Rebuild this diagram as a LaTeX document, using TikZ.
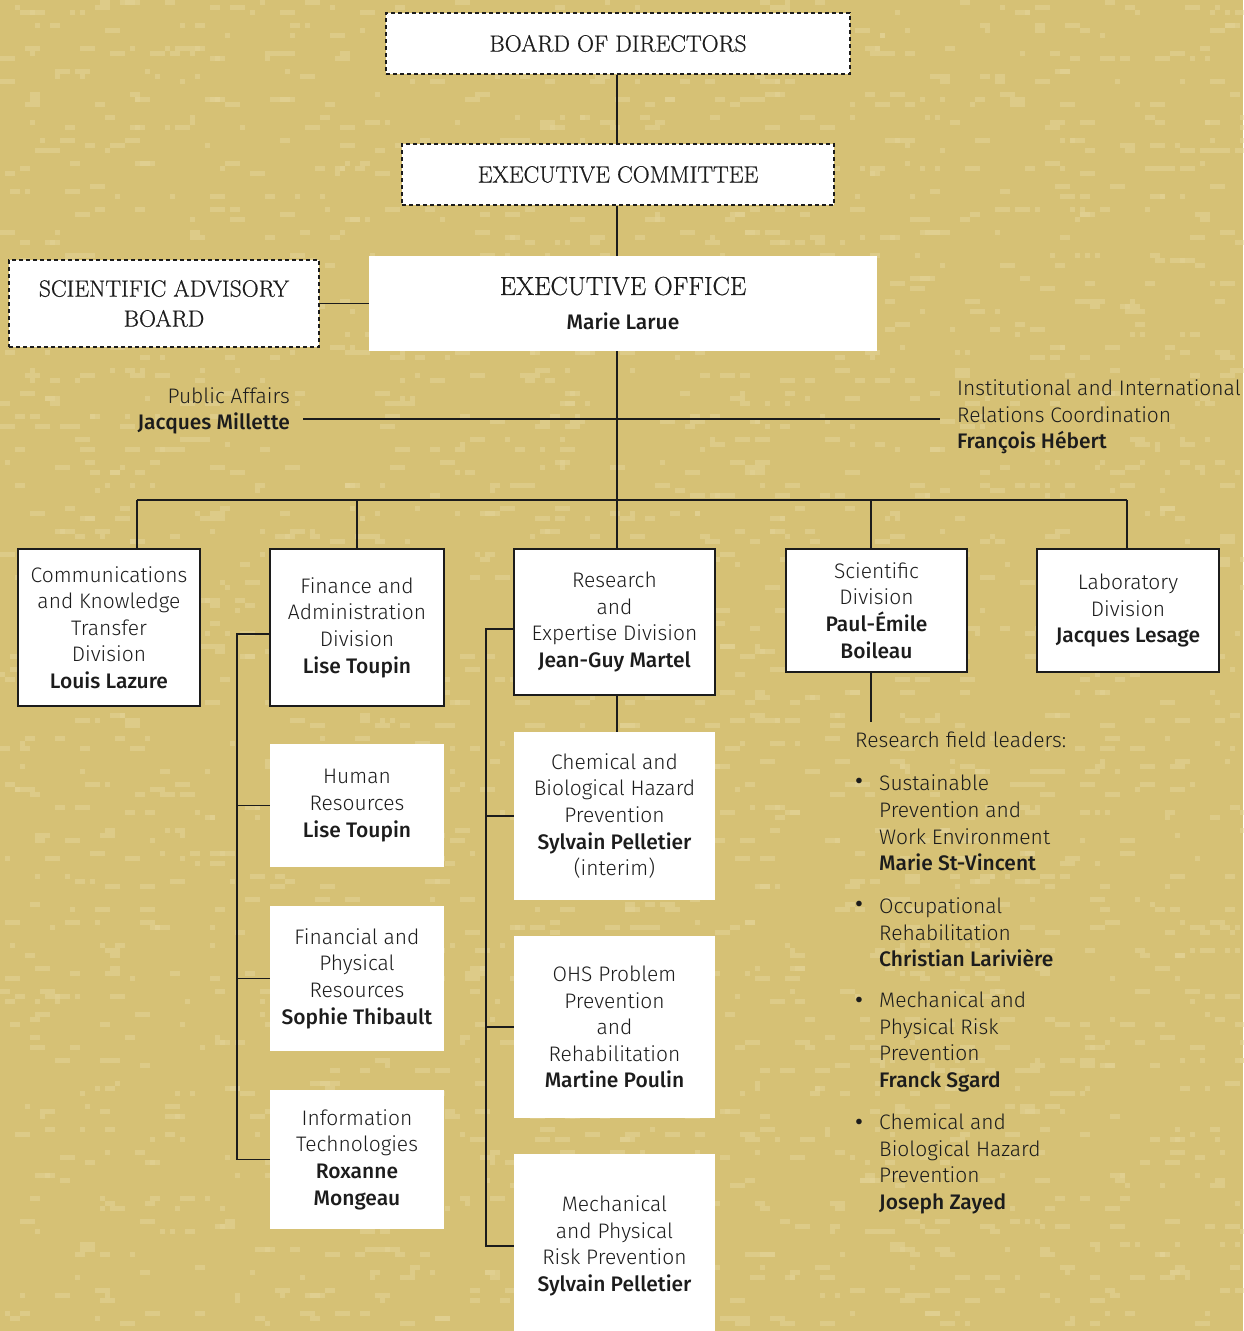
\documentclass[tikz,border=0pt]{standalone}
\usepackage{fontspec}
\setmainfont{Fira Sans Light}[BoldFont={Fira Sans Medium}]
\newfontfamily\headfont{Latin Modern Roman}[FakeBold=0.6]
\definecolor{bg}{RGB}{214,193,117}
\definecolor{speck}{RGB}{228,212,152}
\definecolor{ink}{RGB}{28,28,28}
\begin{document}
\begin{tikzpicture}[x=1pt,y=-1pt,
  conn/.style={draw=ink, line width=1.3pt},
  dashbox/.style={draw=ink, dash pattern=on 4pt off 3pt, fill=white, line width=1.1pt, inner sep=0pt, align=center, text=ink, font=\headfont\fontsize{23.5}{30}\selectfont},
  boxed/.style={draw=ink, fill=white, line width=1.3pt, inner sep=0pt, align=center, text=ink, font=\fontsize{21}{26.6}\selectfont},
  plainbox/.style={fill=white, inner sep=0pt, align=center, text=ink, font=\fontsize{21}{26.6}\selectfont},
  txt/.style={inner sep=0pt, text=ink, font=\fontsize{21}{26.6}\selectfont},
  bul/.style={inner sep=0pt, text=ink, font=\bfseries\fontsize{22}{26.6}\selectfont}]
\useasboundingbox (0,0) rectangle (1243,1331);
\fill[bg] (0,0) rectangle (1243,1331);
% background texture
\pgfmathsetseed{4711}
\foreach \r in {0,...,57}{
  \foreach \k in {1,...,45}{
    \pgfmathsetmacro\rx{5*random(0,248)}
    \pgfmathsetmacro\rw{5*random(1,3)}
    \pgfmathsetmacro\ry{23*\r+5*random(0,2)}
    \fill[speck, opacity=0.55] (\rx,\ry) rectangle ++(\rw,5);
  }
}

% top
\node[dashbox, minimum width=464pt, minimum height=61pt] (bod) at (618,43.5) {BOARD OF DIRECTORS};
\node[dashbox, minimum width=432pt, minimum height=61pt] (ec) at (618,174.5) {EXECUTIVE COMMITTEE};
\node[dashbox, minimum width=310pt, minimum height=87pt] (sab) at (164,303.5) {SCIENTIFIC ADVISORY\\BOARD};
\node[plainbox, minimum width=508pt, minimum height=95pt, font=\fontsize{21}{35}\selectfont] (eo) at (623,303.5) {{\headfont\fontsize{26}{35}\selectfont EXECUTIVE OFFICE}\\\textbf{Marie Larue}};

\draw[conn] (bod.south -| 617,0) -- (ec.north -| 617,0);
\draw[conn] (ec.south -| 617,0) -- (eo.north -| 617,0);
\draw[conn] (sab.east) -- (eo.west);

% staff
\node[txt, anchor=east, align=right] (pa) at (290,411) {Public Affairs\\\textbf{Jacques Millette}};
\node[txt, anchor=west, align=left] (iirc) at (957,417) {Institutional and International\\Relations Coordination\\\textbf{François Hébert}};
\coordinate (paL) at (303,419);
\coordinate (ioR) at (940,419);
\draw[conn] (paL) -- (ioR);

% bus
\coordinate (busC) at (617,500);
\coordinate (busL) at (137,500);
\coordinate (busR) at (1127,500);
\coordinate (d4) at (871,500);
\draw[conn] (eo.south -| busC) -- (busC);
\draw[conn] (busL) -- (busR);

% divisions
\node[boxed, minimum width=182pt, minimum height=157pt] (b1) at (109,627.5) {Communications\\and Knowledge\\Transfer\\Division\\\textbf{Louis Lazure}};
\node[boxed, minimum width=174pt, minimum height=157pt] (b2) at (357,627.5) {Finance and\\Administration\\Division\\\textbf{Lise Toupin}};
\node[boxed, minimum width=201pt, minimum height=146pt] (b3) at (614.5,622) {Research\\and\\Expertise Division\\\textbf{Jean-Guy Martel}};
\node[boxed, minimum width=181pt, minimum height=123pt] (b4) at (876.5,610.5) {Scientific\\Division\\\textbf{Paul-Émile}\\\textbf{Boileau}};
\node[boxed, minimum width=182pt, minimum height=123pt] (b5) at (1128,610.5) {Laboratory\\Division\\\textbf{Jacques Lesage}};

\draw[conn] (busL) -- (busL |- b1.north);
\draw[conn] (b2.north |- busL) -- (b2.north);
\draw[conn] (busC) -- (busC |- b3.north);
\draw[conn] (d4) -- (d4 |- b4.north);
\draw[conn] (busR) -- (busR |- b5.north);

% finance sub-units
\node[plainbox, minimum width=174pt, minimum height=123pt] (hr) at (357,805.5) {Human\\Resources\\\textbf{Lise Toupin}};
\node[plainbox, minimum width=174pt, minimum height=145pt] (fpr) at (357,978.5) {Financial and\\Physical\\Resources\\\textbf{Sophie Thibault}};
\node[plainbox, minimum width=174pt, minimum height=139pt] (itb) at (357,1159.5) {Information\\Technologies\\\textbf{Roxanne}\\\textbf{Mongeau}};
\coordinate (fl) at (237,634);
\draw[conn] (b2.west |- fl) -- (fl) |- (itb.west);
\draw[conn] (fl |- hr.west) -- (hr.west);
\draw[conn] (fl |- fpr.west) -- (fpr.west);

% research sub-units
\node[plainbox, minimum width=201pt, minimum height=168pt] (chem) at (614.5,816) {Chemical and\\Biological Hazard\\Prevention\\\textbf{Sylvain Pelletier}\\(interim)};
\node[plainbox, minimum width=201pt, minimum height=182pt] (ohs) at (614.5,1027) {OHS Problem\\Prevention\\and\\Rehabilitation\\\textbf{Martine Poulin}};
\node[plainbox, minimum width=201pt, minimum height=184pt] (mech) at (614.5,1246) {Mechanical\\and Physical\\Risk Prevention\\\textbf{Sylvain Pelletier}};
\coordinate (rl) at (486,629);
\draw[conn] (b3.west |- rl) -- (rl) |- (mech.west);
\draw[conn] (rl |- chem.west) -- (chem.west);
\draw[conn] (rl |- ohs.west) -- (ohs.west);
\draw[conn] (b3.south -| busC) -- (chem.north -| busC);

% research field leaders
\coordinate (rf) at (871,722);
\draw[conn] (rf |- b4.south) -- (rf);
\node[txt, anchor=west] (rfl) at (855,740) {Research field leaders:};
\node[bul] (bu1) at (859,783) {•};
\node[bul] (bu2) at (859,906) {•};
\node[bul] (bu3) at (859,1002) {•};
\node[bul] (bu4) at (859,1124) {•};
\node[txt, anchor=west, align=left] (li1) at (879,823) {Sustainable\\Prevention and\\Work Environment\\\textbf{Marie St-Vincent}};
\node[txt, anchor=west, align=left] (li2) at (879,932.5) {Occupational\\Rehabilitation\\\textbf{Christian Larivière}};
\node[txt, anchor=west, align=left] (li3) at (879,1042) {Mechanical and\\Physical Risk\\Prevention\\\textbf{Franck Sgard}};
\node[txt, anchor=west, align=left] (li4) at (879,1164) {Chemical and\\Biological Hazard\\Prevention\\\textbf{Joseph Zayed}};
\end{tikzpicture}
\end{document}
